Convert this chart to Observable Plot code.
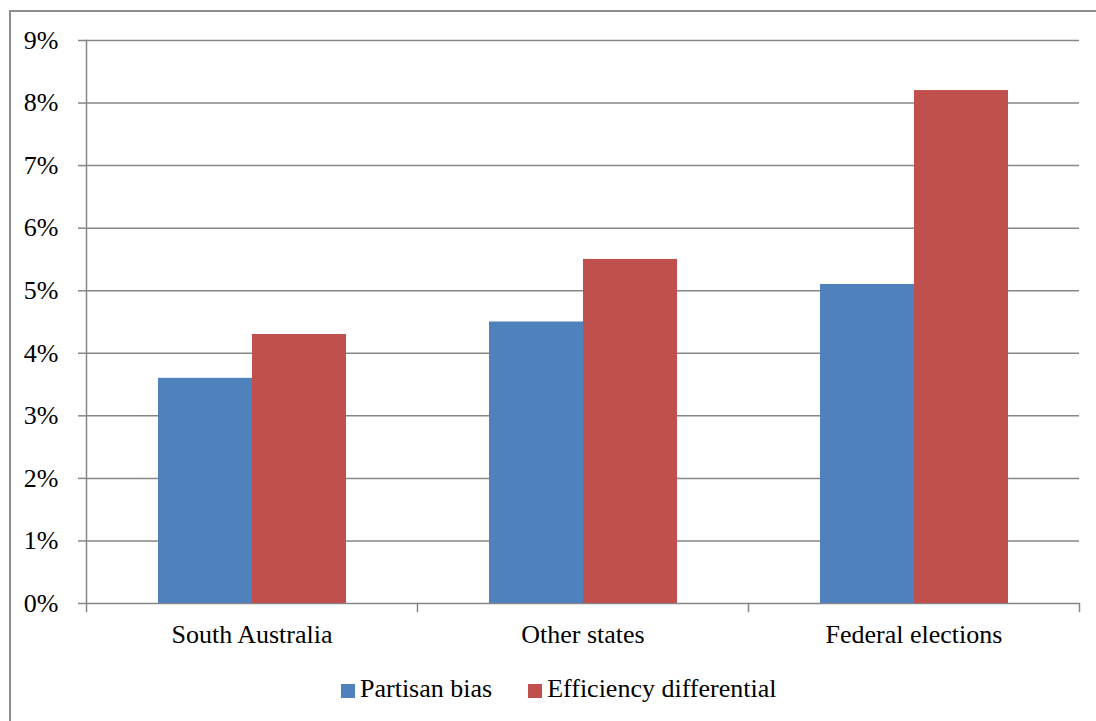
<!DOCTYPE html>
<html><head><meta charset="utf-8">
<script src="https://cdn.jsdelivr.net/npm/d3@7"></script>
<script src="https://cdn.jsdelivr.net/npm/@observablehq/plot@0.6"></script>
<style>
html,body{margin:0;padding:0;background:#fff;overflow:hidden;}
#wrap{position:relative;width:1096px;height:721px;font-family:"Liberation Serif","Times New Roman",Times,serif;}
#border{position:absolute;left:9px;top:10px;width:2000px;height:2000px;border-left:2px solid #8c8c8c;border-top:2px solid #8c8c8c;pointer-events:none;}
#legend{display:flex;align-items:center;height:48px;padding-left:341px;font-size:26px;line-height:26px;color:#000;font-family:"Liberation Serif","Times New Roman",Times,serif;}
.item{display:flex;align-items:center;margin-right:36px;}
.sw{width:14px;height:14px;margin-right:5px;position:relative;top:2px;}
svg text{font-family:"Liberation Serif","Times New Roman",Times,serif;}
</style></head><body>
<div id="wrap"><div id="chart"></div><div id="legend"></div><div id="border"></div></div>
<script>
const categories = ["South Australia", "Other states", "Federal elections"];
const series = ["Partisan bias", "Efficiency differential"];
const partisanBias = [0.036, 0.045, 0.051];
const efficiencyDifferential = [0.043, 0.055, 0.082];
const yTicks = [0, 0.01, 0.02, 0.03, 0.04, 0.05, 0.06, 0.07, 0.08, 0.09];
const colors = ["#4f81bd", "#c0504d"];

const data = categories.flatMap((c, i) => [
  {category: c, series: series[0], value: partisanBias[i]},
  {category: c, series: series[1], value: efficiencyDifferential[i]}
]);

const gray = "#868686";
const serif = '"Liberation Serif", "Times New Roman", Times, serif';
const chart = Plot.plot({
  width: 1096, height: 665,
  marginLeft: 85, marginRight: 16, marginTop: 40, marginBottom: 62,
  style: {fontFamily: serif, fontSize: "26px", color: "#000", background: "transparent"},
  fx: {domain: categories, padding: 0, label: null, axis: null},
  x: {domain: series, paddingInner: 0, paddingOuter: 0.751, axis: null},
  y: {domain: [0, 0.09], label: null, axis: null},
  color: {domain: series, range: colors},
  marks: [
    Plot.gridY(yTicks, {stroke: gray, strokeOpacity: 1, strokeWidth: 1.5}),
    Plot.axisY(yTicks, {anchor: "left", tickFormat: d => Math.round(d * 100) + "%", tickSize: 8, tickPadding: 20, stroke: gray, strokeWidth: 1.5, label: null, fontSize: 26, fontFamily: serif, fill: "#000"}),
    Plot.axisFx({anchor: "bottom", tickSize: 0, tickPadding: 21, label: null, fontSize: 26, fontFamily: serif, fill: "#000"}),
    Plot.barY(data, {fx: "category", x: "series", y: "value", fill: "series"}),
    Plot.frame({anchor: "left", facetAnchor: "left", insetBottom: -8, stroke: gray, strokeWidth: 1.5}),
    Plot.frame({anchor: "right", insetTop: 563, insetBottom: -8, stroke: gray, strokeWidth: 1.5})
  ]
});
document.getElementById("chart").appendChild(chart);

const legend = document.getElementById("legend");
series.forEach((s, i) => {
  const item = document.createElement("div");
  item.className = "item";
  const sw = document.createElement("div");
  sw.className = "sw";
  sw.style.background = colors[i];
  const t = document.createElement("span");
  t.textContent = s;
  item.appendChild(sw); item.appendChild(t);
  legend.appendChild(item);
});
</script>
</body></html>
